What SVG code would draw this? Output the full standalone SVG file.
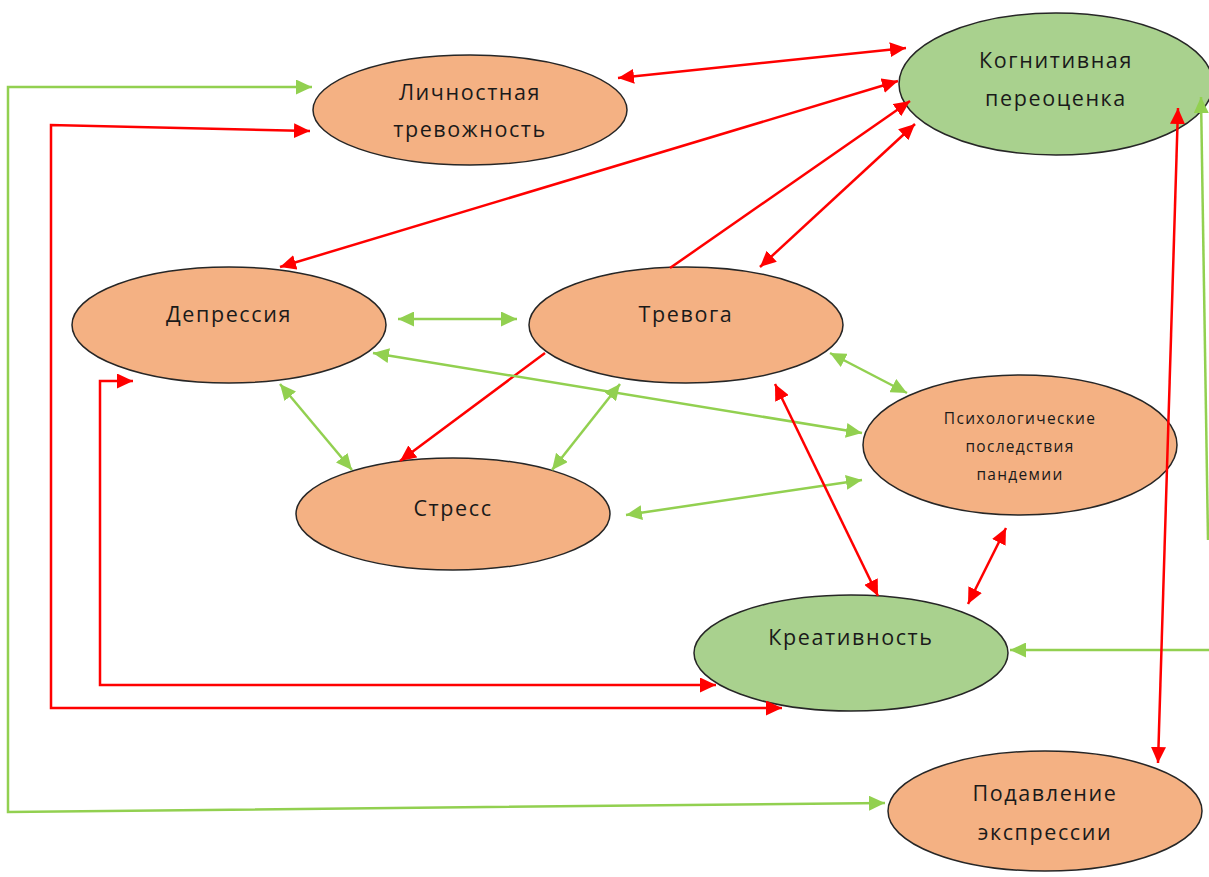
<svg xmlns="http://www.w3.org/2000/svg" width="1209" height="877" viewBox="0 0 1209 877">
<defs>
<marker id="ar" markerUnits="userSpaceOnUse" markerWidth="17" markerHeight="15" refX="16" refY="7.5" orient="auto-start-reverse"><path d="M0,0 L16,7.5 L0,15 z" fill="#FF0000"/></marker>
<marker id="ag" markerUnits="userSpaceOnUse" markerWidth="17" markerHeight="15" refX="16" refY="7.5" orient="auto-start-reverse"><path d="M0,0 L16,7.5 L0,15 z" fill="#92D050"/></marker>
<style>
.o{fill:#F4B183;stroke:#262626;stroke-width:1.5}
.g{fill:#A9D18E;stroke:#262626;stroke-width:1.5}
.t{font-family:"Open Sans","Noto Sans",sans-serif;font-size:21.5px;letter-spacing:1.6px;fill:#1a1a1a;text-anchor:middle}
.s{font-family:"Open Sans","Noto Sans",sans-serif;font-size:15.5px;letter-spacing:1.3px;fill:#1a1a1a;text-anchor:middle}
.r{fill:none;stroke:#FF0000;stroke-width:2.5}
.gr{fill:none;stroke:#92D050;stroke-width:2.5}
.r1{marker-end:url(#ar)}
.r2{marker-start:url(#ar);marker-end:url(#ar)}
.g1{marker-end:url(#ag)}
.g2{marker-start:url(#ag);marker-end:url(#ag)}
</style>
</defs>
<rect width="1209" height="877" fill="#ffffff"/>
<g id="nodes">
<g id="lichn"><ellipse class="o" cx="470" cy="110" rx="157" ry="55"/><text class="t" x="470" y="100">Личностная</text><text class="t" x="470" y="137">тревожность</text></g>
<g id="kogn"><ellipse class="g" cx="1056" cy="84" rx="157" ry="71"/><text class="t" x="1056" y="68">Когнитивная</text><text class="t" x="1056" y="106">переоценка</text></g>
<g id="depr"><ellipse class="o" cx="229" cy="325" rx="157" ry="58"/><text class="t" x="229" y="322">Депрессия</text></g>
<g id="trev"><ellipse class="o" cx="686" cy="325" rx="157" ry="58"/><text class="t" x="686" y="322">Тревога</text></g>
<g id="psych"><ellipse class="o" cx="1020" cy="445" rx="157" ry="70"/><text class="s" x="1020" y="424">Психологические</text><text class="s" x="1020" y="452">последствия</text><text class="s" x="1020" y="480">пандемии</text></g>
<g id="stress"><ellipse class="o" cx="453" cy="514" rx="157" ry="56"/><text class="t" x="453" y="516">Стресс</text></g>
<g id="kreat"><ellipse class="g" cx="851" cy="653" rx="157" ry="58"/><text class="t" x="851" y="645">Креативность</text></g>
<g id="podav"><ellipse class="o" cx="1045" cy="811" rx="157" ry="60"/><text class="t" x="1045" y="801">Подавление</text><text class="t" x="1045" y="840">экспрессии</text></g>
</g>
<g id="connectors">
<polyline class="gr g2" points="312,87 8,87 8,812 885,803"/>
<polyline class="r r2" points="310,131 51,125 51,708 782,708"/>
<polyline class="r r2" points="133,381 100,381 100,685 716,685"/>
<line class="r r2" x1="618" y1="78" x2="906" y2="48"/>
<line class="r r2" x1="280" y1="267" x2="898" y2="81"/>
<line class="r r1" x1="670" y1="268" x2="910" y2="101"/>
<line class="r r2" x1="760" y1="267" x2="915" y2="124"/>
<line class="r r1" x1="545" y1="353" x2="400" y2="461"/>
<line class="gr g2" x1="398" y1="319" x2="517" y2="319"/>
<line class="gr g2" x1="373" y1="353" x2="862" y2="433"/>
<line class="gr g2" x1="280" y1="384" x2="352" y2="470"/>
<line class="gr g2" x1="620" y1="384" x2="552" y2="470"/>
<line class="gr g2" x1="626" y1="515" x2="862" y2="480"/>
<line class="gr g2" x1="830" y1="353" x2="907" y2="393"/>
<line class="r r2" x1="775" y1="384" x2="878" y2="596"/>
<line class="r r2" x1="1006" y1="528" x2="968" y2="604"/>
<line class="gr g1" x1="1209" y1="650" x2="1010" y2="650"/>
<line class="r r2" x1="1178" y1="108" x2="1158" y2="763"/>
<line class="gr g1" x1="1208" y1="540" x2="1201" y2="97"/>
</g>
</svg>
